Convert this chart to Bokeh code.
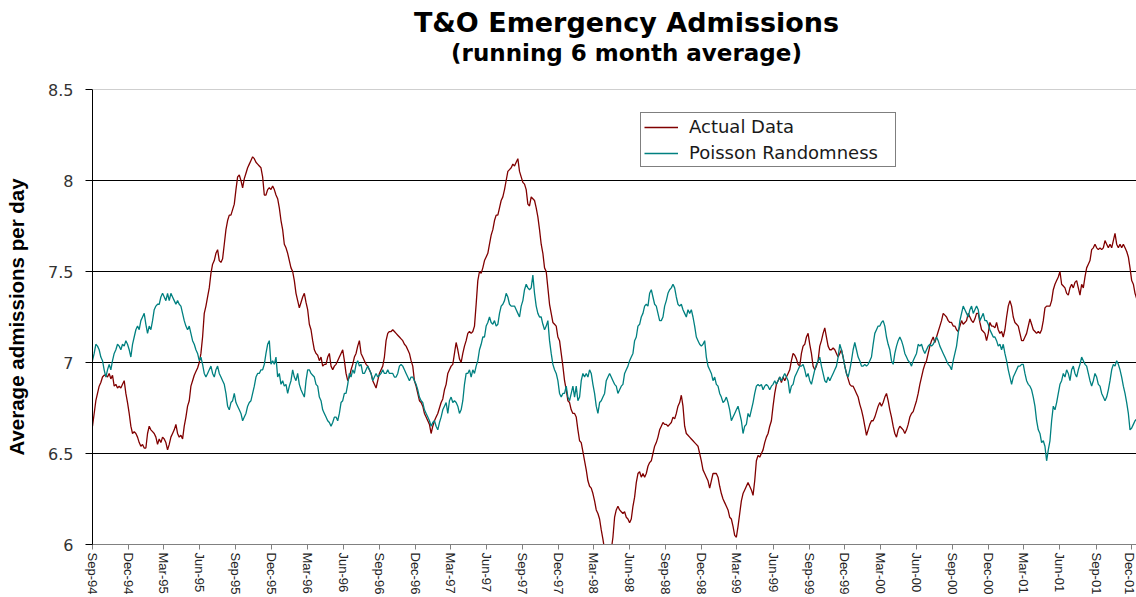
import pandas as pd
from bokeh.plotting import figure
from bokeh.layouts import column
from bokeh.models import (Range1d, FixedTicker, Legend, LegendItem, Span,
                          ColumnDataSource)
from bokeh.core.properties import value
from bokeh.embed import file_html
from bokeh.resources import INLINE

title_text = "T&O Emergency Admissions"
subtitle_text = "(running 6 month average)"
y_label = "Average admissions per day"
series_names = ["Actual Data", "Poisson Randomness"]
start_date = "1994-09-01"
step_hours = 102          # one reading every 4.25 days
x_span_days = 2660

x_tick_labels = ["Sep-94", "Dec-94", "Mar-95", "Jun-95", "Sep-95", "Dec-95",
                 "Mar-96", "Jun-96", "Sep-96", "Dec-96", "Mar-97", "Jun-97",
                 "Sep-97", "Dec-97", "Mar-98", "Jun-98", "Sep-98", "Dec-98",
                 "Mar-99", "Jun-99", "Sep-99", "Dec-99", "Mar-00", "Jun-00",
                 "Sep-00", "Dec-00", "Mar-01", "Jun-01", "Sep-01", "Dec-01"]
y_ticks = [6, 6.5, 7, 7.5, 8, 8.5]
y_tick_labels = ["6", "6.5", "7", "7.5", "8", "8.5"]

actual = [
    6.65, 6.72, 6.79, 6.83, 6.87, 6.89, 6.92, 6.93, 6.93, 6.92,
    6.94, 6.91, 6.93, 6.87, 6.88, 6.86, 6.87, 6.86, 6.88, 6.90,
    6.83, 6.78, 6.72, 6.65, 6.61, 6.62, 6.61, 6.59, 6.56, 6.54,
    6.55, 6.53, 6.53, 6.61, 6.65, 6.63, 6.62, 6.61, 6.59, 6.55,
    6.58, 6.56, 6.59, 6.58, 6.56, 6.52, 6.55, 6.59, 6.61, 6.63,
    6.66, 6.61, 6.59, 6.60, 6.58, 6.65, 6.70, 6.76, 6.79, 6.87,
    6.90, 6.93, 6.95, 6.97, 7.00, 7.05, 7.14, 7.27, 7.31, 7.36,
    7.41, 7.49, 7.54, 7.56, 7.60, 7.62, 7.56, 7.55, 7.57, 7.65,
    7.73, 7.78, 7.81, 7.81, 7.84, 7.87, 7.95, 8.02, 8.03, 8.00,
    7.96, 8.01, 8.04, 8.07, 8.09, 8.11, 8.13, 8.12, 8.10, 8.09,
    8.08, 8.07, 8.02, 7.92, 7.92, 7.95, 7.96,
    7.95, 7.97, 7.95, 7.92, 7.90, 7.85, 7.78, 7.73, 7.65, 7.63,
    7.60, 7.56, 7.52, 7.50, 7.45, 7.38, 7.34, 7.30, 7.33, 7.36,
    7.38, 7.33, 7.29, 7.21, 7.18, 7.12, 7.07, 7.05, 7.04, 7.01,
    7.03, 6.98, 6.99, 6.99, 7.03, 7.05, 6.98, 6.96, 6.98, 6.99,
    7.01, 7.03, 7.05, 7.07, 7.01, 6.94, 6.90, 6.92, 6.96, 6.99,
    7.03, 7.05, 7.09, 7.12, 7.05, 7.03, 7.01, 6.99, 6.98, 6.96,
    6.94, 6.90, 6.88, 6.86, 6.90, 6.94, 6.96, 6.98, 7.03, 7.12,
    7.16, 7.17, 7.17, 7.18, 7.17, 7.16, 7.15, 7.14, 7.13, 7.12,
    7.10, 7.09, 7.07, 7.05, 7.01, 6.98, 6.90, 6.87, 6.83, 6.79,
    6.78, 6.76, 6.72, 6.70, 6.68, 6.66, 6.61, 6.65, 6.68, 6.70,
    6.72, 6.75, 6.78, 6.80, 6.85, 6.88,
    6.94, 6.96, 6.98, 6.99, 7.05, 7.11, 7.07, 7.02, 7.00, 7.05,
    7.09, 7.12, 7.16, 7.17, 7.16, 7.17, 7.20, 7.32, 7.45, 7.50,
    7.49, 7.52, 7.56, 7.58, 7.60, 7.65, 7.70, 7.73, 7.78, 7.81,
    7.81, 7.85, 7.89, 7.91, 7.95, 8.00, 8.05, 8.06, 8.07, 8.09,
    8.08, 8.10, 8.12, 8.05, 8.02, 7.99, 7.98, 7.95, 7.87, 7.86,
    7.91, 7.90, 7.89, 7.85, 7.80, 7.73, 7.65, 7.60, 7.52, 7.50,
    7.41, 7.32, 7.27, 7.22, 7.21, 7.20, 7.14, 7.12, 7.05, 6.98,
    6.90, 6.85, 6.79, 6.78, 6.74, 6.72, 6.72, 6.70, 6.63, 6.57,
    6.56, 6.51, 6.46, 6.41, 6.35, 6.32, 6.31, 6.28, 6.24, 6.19,
    6.17, 6.14, 6.08, 6.03, 5.97, 5.93, 5.92, 5.94, 5.97, 6.04,
    6.15, 6.19, 6.21, 6.19, 6.18, 6.17,
    6.18, 6.15, 6.14, 6.12, 6.14, 6.21, 6.26, 6.34, 6.39, 6.40,
    6.37, 6.39, 6.37, 6.39, 6.43, 6.45, 6.46, 6.50, 6.54, 6.56,
    6.59, 6.63, 6.65, 6.67, 6.66, 6.66, 6.65, 6.66, 6.67, 6.70,
    6.69, 6.72, 6.76, 6.78, 6.82, 6.76, 6.65, 6.61, 6.60, 6.59,
    6.58, 6.57, 6.56, 6.55, 6.54, 6.50, 6.46, 6.41, 6.39, 6.37,
    6.35, 6.31, 6.35, 6.39, 6.39, 6.39, 6.37, 6.32, 6.28, 6.25,
    6.23, 6.21, 6.19, 6.15, 6.14, 6.10, 6.05, 6.04, 6.10, 6.17,
    6.24, 6.28, 6.30, 6.32, 6.34, 6.32, 6.30, 6.27, 6.35, 6.46,
    6.49, 6.48, 6.50, 6.52, 6.56, 6.59, 6.61, 6.65, 6.68, 6.76,
    6.83, 6.88, 6.90, 6.92, 6.89, 6.92, 6.90, 6.92, 6.94, 6.96,
    7.01, 7.05, 7.04, 7.02, 6.99, 6.98,
    7.05, 7.09, 7.10, 7.14, 7.16, 7.10, 7.05, 6.98, 6.96, 6.98,
    7.01, 7.09, 7.12, 7.16, 7.19, 7.14, 7.09, 7.07, 7.07, 7.08,
    7.07, 7.05, 7.03, 7.05, 7.07, 7.03, 6.98, 6.94, 6.91, 6.88,
    6.87, 6.87, 6.85, 6.83, 6.81, 6.77, 6.74, 6.70, 6.65, 6.60,
    6.63, 6.66, 6.68, 6.68, 6.70, 6.73, 6.76, 6.78, 6.76, 6.78,
    6.81, 6.83, 6.79, 6.74, 6.70, 6.65, 6.61, 6.59, 6.63, 6.65,
    6.64, 6.63, 6.61, 6.63, 6.66, 6.70, 6.72, 6.73, 6.76, 6.79,
    6.83, 6.88, 6.92, 6.96, 6.99, 7.01, 7.05, 7.09, 7.12, 7.14,
    7.11, 7.14, 7.17, 7.20, 7.23, 7.27, 7.26, 7.25, 7.23, 7.22,
    7.22, 7.20, 7.20, 7.18, 7.17, 7.20, 7.23, 7.21, 7.22, 7.23,
    7.27, 7.25, 7.23, 7.22, 7.24, 7.27,
    7.27, 7.22, 7.18, 7.17, 7.16, 7.12, 7.16, 7.22, 7.20, 7.20,
    7.19, 7.22, 7.18, 7.16, 7.17, 7.14, 7.18, 7.25, 7.31, 7.34,
    7.31, 7.25, 7.22, 7.21, 7.20, 7.16, 7.12, 7.12, 7.14, 7.16,
    7.20, 7.24, 7.21, 7.18, 7.17, 7.16, 7.17, 7.16, 7.18, 7.23,
    7.30, 7.31, 7.31, 7.31, 7.34, 7.40, 7.43, 7.45, 7.47, 7.50,
    7.43, 7.42, 7.41, 7.38, 7.37, 7.41, 7.43, 7.41, 7.44, 7.45,
    7.41, 7.37, 7.43, 7.41, 7.47, 7.52, 7.54, 7.56, 7.62, 7.63,
    7.65, 7.63, 7.62, 7.63, 7.62, 7.63, 7.67, 7.65, 7.63, 7.65,
    7.63, 7.67, 7.71, 7.65, 7.63, 7.65, 7.63, 7.65, 7.63, 7.61,
    7.58, 7.52, 7.45, 7.43, 7.38, 7.35,
]

poisson = [
    7.01, 7.05, 7.10, 7.09, 7.07, 7.03, 7.01, 6.96, 6.92, 6.96,
    6.99, 6.96, 7.01, 7.05, 7.07, 7.10, 7.09, 7.07, 7.10, 7.09,
    7.12, 7.10, 7.07, 7.03, 7.10, 7.14, 7.18, 7.20, 7.18, 7.23,
    7.25, 7.27, 7.21, 7.16, 7.20, 7.18, 7.23, 7.29, 7.31, 7.32,
    7.32, 7.36, 7.38, 7.36, 7.34, 7.38, 7.34, 7.38, 7.36, 7.34,
    7.32, 7.34, 7.32, 7.31, 7.27, 7.23, 7.20, 7.18, 7.20, 7.16,
    7.12, 7.10, 7.07, 7.05, 7.01, 7.03, 6.99, 6.94, 6.92, 6.94,
    6.96, 6.98, 6.94, 6.92, 6.96, 6.98, 6.94, 6.92, 6.90, 6.88,
    6.83, 6.76, 6.74, 6.78, 6.79, 6.83, 6.78, 6.76, 6.74, 6.72,
    6.68, 6.70, 6.72, 6.76, 6.78, 6.79, 6.83, 6.87, 6.92, 6.94,
    6.94, 6.96, 6.96, 6.99, 7.05, 7.10, 7.12,
    6.99, 7.01, 6.99, 7.03, 6.92, 6.94, 6.88, 6.90, 6.87, 6.88,
    6.83, 6.87, 6.90, 6.96, 6.92, 6.90, 6.94, 6.88, 6.85, 6.83,
    6.81, 6.90, 6.96, 6.96, 6.94, 6.93, 6.92, 6.88, 6.87, 6.81,
    6.79, 6.74, 6.72, 6.70, 6.68, 6.67, 6.65, 6.67, 6.70, 6.70,
    6.68, 6.72, 6.78, 6.79, 6.83, 6.83, 6.88, 6.94, 6.92, 6.96,
    6.94, 6.99, 7.01, 6.98, 6.99, 6.94, 6.94, 6.96, 6.98, 6.96,
    6.94, 6.90, 6.92, 6.94, 6.92, 6.93, 6.94, 6.96, 6.94, 6.94,
    6.96, 6.94, 6.94, 6.94, 6.92, 6.92, 6.94, 6.98, 6.99, 6.98,
    6.96, 6.94, 6.92, 6.90, 6.92, 6.92, 6.90, 6.88, 6.85, 6.81,
    6.79, 6.78, 6.74, 6.72, 6.70, 6.68, 6.65, 6.67, 6.68, 6.65,
    6.63, 6.67, 6.70, 6.74, 6.76, 6.78,
    6.72, 6.79, 6.81, 6.78, 6.79, 6.78, 6.76, 6.72, 6.74, 6.79,
    6.88, 6.94, 6.94, 6.96, 6.92, 6.96, 6.94, 6.98, 7.01, 7.07,
    7.10, 7.14, 7.14, 7.20, 7.22, 7.25, 7.22, 7.21, 7.23, 7.20,
    7.21, 7.27, 7.31, 7.32, 7.34, 7.38, 7.36, 7.32, 7.31, 7.31,
    7.31, 7.29, 7.27, 7.25, 7.31, 7.34, 7.40, 7.43, 7.41, 7.40,
    7.41, 7.48, 7.38, 7.31, 7.27, 7.25, 7.25, 7.21, 7.18, 7.20,
    7.23, 7.12, 7.05, 6.99, 6.96, 6.94, 6.90, 6.83, 6.81, 6.83,
    6.83, 6.87, 6.81, 6.79, 6.83, 6.87, 6.81, 6.87, 6.79, 6.81,
    6.90, 6.94, 6.92, 6.94, 6.92, 6.96, 6.94, 6.88, 6.83, 6.76,
    6.72, 6.78, 6.79, 6.81, 6.83, 6.90, 6.92, 6.94, 6.92, 6.90,
    6.88, 6.87, 6.83, 6.85, 6.87, 6.88,
    6.94, 6.96, 6.98, 7.01, 7.03, 7.05, 7.12, 7.14, 7.20, 7.21,
    7.25, 7.27, 7.31, 7.32, 7.31, 7.38, 7.40, 7.36, 7.32, 7.31,
    7.27, 7.23, 7.23, 7.25, 7.31, 7.34, 7.38, 7.40, 7.41, 7.43,
    7.41, 7.36, 7.32, 7.31, 7.32, 7.29, 7.27, 7.25, 7.29, 7.27,
    7.29, 7.25, 7.20, 7.14, 7.12, 7.10, 7.09, 7.10, 7.12, 7.03,
    6.98, 6.96, 6.94, 6.90, 6.92, 6.88, 6.87, 6.83, 6.81, 6.78,
    6.79, 6.81, 6.78, 6.74, 6.68, 6.70, 6.72, 6.74, 6.76, 6.72,
    6.68, 6.61, 6.65, 6.66, 6.72, 6.70, 6.74, 6.78, 6.83, 6.87,
    6.88, 6.87, 6.88, 6.85, 6.87, 6.88, 6.87, 6.85, 6.87, 6.88,
    6.90, 6.88, 6.90, 6.92, 6.90, 6.92, 6.94, 6.92, 6.90, 6.83,
    6.87, 6.88, 6.92, 6.94, 6.96, 6.98,
    6.98, 6.99, 6.96, 6.92, 6.94, 6.90, 6.88, 6.92, 6.96, 6.99,
    7.01, 7.03, 6.98, 6.94, 6.90, 6.89, 6.92, 6.90, 6.92, 6.94,
    6.96, 6.98, 7.03, 7.10, 7.07, 7.03, 6.98, 6.94, 6.92, 6.96,
    7.01, 7.07, 7.11, 7.07, 7.03, 7.01, 6.98, 6.98, 6.99, 6.98,
    6.99, 7.01, 7.03, 7.10, 7.16, 7.18, 7.20, 7.20, 7.22, 7.23,
    7.20, 7.14, 7.10, 7.07, 7.01, 6.99, 7.05, 7.09, 7.12, 7.14,
    7.12, 7.09, 7.05, 7.03, 7.01, 7.00, 6.98, 7.01, 7.03, 7.05,
    7.10, 7.09, 7.10, 7.07, 7.05, 7.07, 7.09, 7.10, 7.09, 7.10,
    7.12, 7.14, 7.12, 7.09, 7.07, 7.05, 7.03, 7.01, 6.99, 6.98,
    6.96, 7.01, 7.05, 7.09, 7.16, 7.23, 7.27, 7.31, 7.29, 7.27,
    7.25, 7.29, 7.31, 7.27, 7.29, 7.31,
    7.29, 7.23, 7.25, 7.27, 7.23, 7.23, 7.21, 7.18, 7.16, 7.14,
    7.14, 7.12, 7.09, 7.10, 7.07, 7.10, 7.05, 7.01, 6.96, 6.92,
    6.88, 6.92, 6.94, 6.96, 6.98, 6.98, 6.99, 6.99, 6.94, 6.90,
    6.88, 6.87, 6.85, 6.81, 6.76, 6.68, 6.63, 6.61, 6.56, 6.57,
    6.54, 6.46, 6.52, 6.57, 6.68, 6.76, 6.74, 6.78, 6.83, 6.88,
    6.90, 6.94, 6.92, 6.96, 6.94, 6.90, 6.96, 6.98, 6.94, 6.92,
    6.96, 6.99, 7.03, 7.01, 6.99, 6.98, 6.94, 6.90, 6.87, 6.90,
    6.94, 6.92, 6.88, 6.87, 6.83, 6.81, 6.79, 6.81, 6.85, 6.90,
    6.96, 6.99, 6.98, 7.01, 6.99, 6.96, 6.92, 6.87, 6.83, 6.78,
    6.72, 6.63, 6.64, 6.66, 6.68, 6.69,
]

# ---- data source ----
n = min(len(actual), len(poisson))
dates = pd.date_range(start_date, periods=n, freq=f"{step_hours}h")
src = ColumnDataSource(dict(date=dates, actual=actual[:n], poisson=poisson[:n]))

x_start = pd.Timestamp(start_date)
x_end = x_start + pd.Timedelta(days=x_span_days)
tick_dates = [pd.to_datetime(lab, format="%b-%y") for lab in x_tick_labels]
tick_ms = [int(t.value // 10**6) for t in tick_dates]

W, H = 1136, 597
LEFT = 92          # plot-area left edge in page pixels
TH = 75            # height of the title strip
TOP_PAD = 14       # space between title strip and plot area

# ---- title strip: its frame spans the same columns as the chart's plot area,
#      with x / y measured in page pixels ----
tf = figure(width=W, height=TH, title=None, output_backend="svg",
            toolbar_location=None, x_range=Range1d(LEFT, W), y_range=Range1d(0, TH),
            x_axis_location=None, y_axis_location=None,
            min_border_left=LEFT, min_border_right=0, min_border_top=0,
            min_border_bottom=0)
tf.grid.visible = False
tf.outline_line_color = None
tf.background_fill_color = "white"
tf.border_fill_color = "white"
tf.text(x=[626], y=[TH - 22], text=[title_text], text_align="center",
        text_baseline="alphabetic", text_font=value("DejaVu Sans"),
        text_font_style="bold", text_font_size="27px", text_color="black")
tf.text(x=[626], y=[TH - 52], text=[subtitle_text], text_align="center",
        text_baseline="alphabetic", text_font=value("DejaVu Sans"),
        text_font_style="bold", text_font_size="23px", text_color="black")

# ---- main chart ----
p = figure(width=W, height=H - TH, x_axis_type="datetime", title=None,
           output_backend="svg", toolbar_location=None,
           x_range=Range1d(x_start, x_end), y_range=Range1d(y_ticks[0], y_ticks[-1]),
           min_border_left=LEFT, min_border_right=0, min_border_top=TOP_PAD,
           min_border_bottom=53)
p.outline_line_color = None
p.background_fill_color = "white"
p.border_fill_color = "white"

r1 = p.line("date", "actual", source=src, line_color="#800000", line_width=1.3)
r2 = p.line("date", "poisson", source=src, line_color="#008080", line_width=1.3)

# x axis
xa = p.xaxis[0]
xa.ticker = FixedTicker(ticks=tick_ms)
xa.major_label_overrides = {ms: lab for ms, lab in zip(tick_ms, x_tick_labels)}
xa.major_label_orientation = "vertical"
xa.axis_line_color = "#808080"
xa.major_tick_line_color = "#808080"
xa.major_tick_out = 5
xa.major_tick_in = 0
xa.minor_tick_line_color = None
xa.major_label_standoff = 3
xa.major_label_text_font = "Liberation Sans"
xa.major_label_text_font_size = "13px"
xa.major_label_text_color = "#222222"

# y axis
ya = p.yaxis[0]
ya.ticker = FixedTicker(ticks=y_ticks)
ya.major_label_overrides = dict(zip(y_ticks, y_tick_labels))
ya.axis_line_color = "black"
ya.major_tick_line_color = "black"
ya.major_tick_out = 7
ya.major_tick_in = 0
ya.minor_tick_line_color = None
ya.major_label_standoff = 12
ya.major_label_text_font = "DejaVu Sans"
ya.major_label_text_font_size = "16px"
ya.major_label_text_color = "#333333"
ya.axis_label = y_label
ya.axis_label_text_font = "Liberation Sans"
ya.axis_label_text_font_style = "bold"
ya.axis_label_text_font_size = "20.5px"
ya.axis_label_text_color = "black"
ya.axis_label_standoff = 17

# grid
p.xgrid.visible = False
p.ygrid.ticker = FixedTicker(ticks=y_ticks[1:-1])
p.ygrid.grid_line_color = "black"
p.ygrid.grid_line_width = 1
p.add_layout(Span(location=y_ticks[-1], dimension="width",
                  line_color="#a0a0a0", line_width=1))

# legend
legend = Legend(items=[LegendItem(label=series_names[0], renderers=[r1]),
                       LegendItem(label=series_names[1], renderers=[r2])],
                location=(548, 377), orientation="vertical", margin=0,
                padding=3, spacing=5, glyph_width=34, glyph_height=20,
                label_height=20, label_width=203, label_standoff=11,
                label_text_font="DejaVu Sans", label_text_font_size="18px",
                label_text_color="#1a1a1a", border_line_color="black",
                border_line_width=1, background_fill_color="white",
                background_fill_alpha=1.0)
p.add_layout(legend, "center")

page = column(tf, p, spacing=0)
open("out.html", "w").write(file_html(page, INLINE))
